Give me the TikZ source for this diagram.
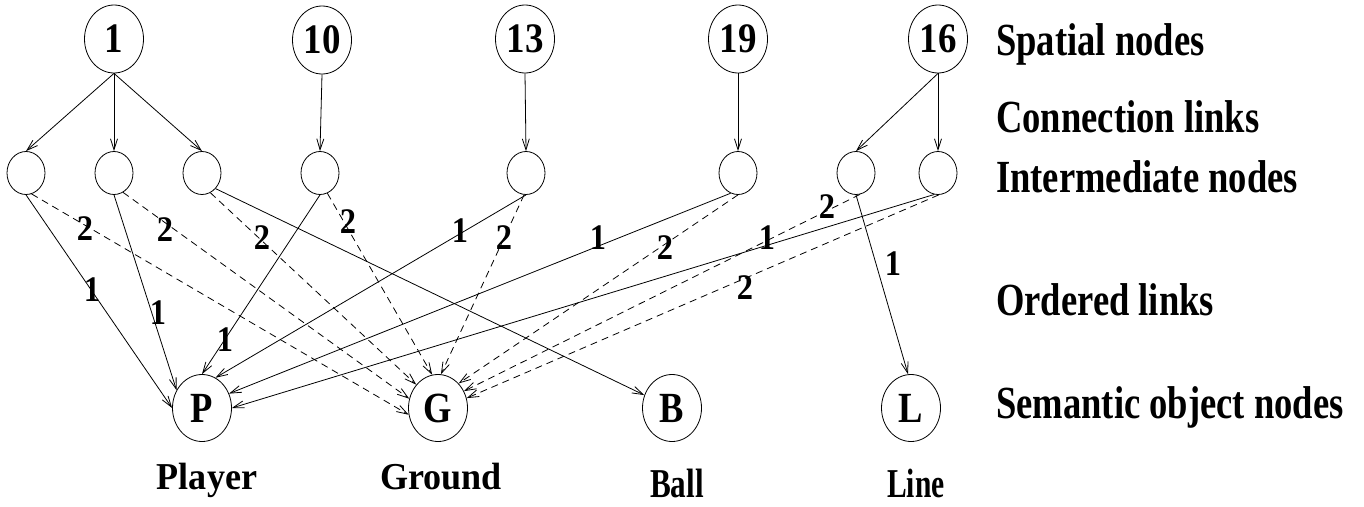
\documentclass[tikz,border=0pt]{standalone}
\usepackage{fontspec}
\setmainfont{Liberation Serif}
\usepackage{graphicx}
\usetikzlibrary{shapes.geometric,arrows.meta}

% bold text at a given size, squeezed horizontally
\newcommand\sqz[3]{{\fontsize{#1}{#1}\selectfont\bfseries\scalebox{#2}[1]{#3}}}
\newcommand\spnum[1]{\sqz{42}{0.88}{#1}}
\newcommand\objletter[1]{\sqz{43}{0.85}{#1}}
\newcommand\ordnum[1]{\sqz{36}{0.9}{#1}}
\newcommand\legend[1]{\sqz{46}{0.795}{#1}}

\tikzset{
  spatial/.style={draw, ellipse, line width=0.8pt, minimum width=59pt, minimum height=68pt, inner sep=0pt},
  inter/.style={draw, ellipse, line width=0.8pt, minimum width=38pt, minimum height=43pt, inner sep=0pt},
  semobj/.style={draw, ellipse, line width=0.8pt, minimum width=59pt, minimum height=67pt, inner sep=0pt},
  link/.style={-{Straight Barb[length=11pt,width=7pt]}, line width=0.8pt},
  dlink/.style={link, dash pattern=on 7pt off 5pt},
  lbl/.style={inner sep=0pt},
}

\begin{document}
\begin{tikzpicture}[x=1pt,y=-1pt]
\useasboundingbox (0,0) rectangle (1364,506);

% spatial nodes
\node[spatial] (t1)  at (114,39) {\spnum{1}};
\node[spatial] (t10) at (322,40) {\spnum{10}};
\node[spatial] (t13) at (525,39) {\spnum{13}};
\node[spatial] (t19) at (738,39) {\spnum{19}};
\node[spatial] (t16) at (938,39) {\spnum{16}};

% intermediate nodes
\node[inter] (i1) at (26,173) {};
\node[inter] (i2) at (114,173) {};
\node[inter] (i3) at (202,173) {};
\node[inter] (i4) at (320,173) {};
\node[inter] (i5) at (526,173) {};
\node[inter] (i6) at (738,173) {};
\node[inter] (i7) at (856,173) {};
\node[inter] (i8) at (938,173) {};

% semantic object nodes
\node[semobj] (p) at (202,408) {\objletter{P}};
\node[semobj] (g) at (438,408) {\objletter{G}};
\node[semobj] (b) at (672,408) {\objletter{B}};
\node[semobj] (l) at (911,408) {\objletter{L}};

% object names
\node[lbl, anchor=base] (nplayer) at (207,489) {\sqz{38}{0.95}{Player}};
\node[lbl, anchor=base] (nground) at (441,489) {\sqz{38}{0.95}{Ground}};
\node[lbl, anchor=base] (nball)   at (677,497) {\sqz{41}{0.76}{Ball}};
\node[lbl, anchor=base] (nline)   at (916,497) {\sqz{41}{0.72}{Line}};

% legend on the right
\node[lbl, anchor=base west] (lgsp)  at (996,55)  {\legend{Spatial nodes}};
\node[lbl, anchor=base west] (lgcl)  at (996,132) {\legend{Connection links}};
\node[lbl, anchor=base west] (lgin)  at (996,192) {\legend{Intermediate nodes}};
\node[lbl, anchor=base west] (lgol)  at (996,315) {\legend{Ordered links}};
\node[lbl, anchor=base west] (lgso)  at (996,418) {\legend{Semantic object nodes}};

% connection links
\draw[link] (t1.south)  -- (i1.north);
\draw[link] (t1.south)  -- (i2.north);
\draw[link] (t1.south)  -- (i3.north);
\draw[link] (t10.south) -- (i4.north);
\draw[link] (t13.south) -- (i5.north);
\draw[link] (t19.south) -- (i6.north);
\draw[link] (t16.south) -- (i7.north);
\draw[link] (t16.south) -- (i8.north);

% ordered links: solid = order 1, dashed = order 2
\draw[link]  (i1.south) -- (p.west);
\draw[dlink] (i1.-75)   -- (g.193);
\draw[link]  (i2.south) -- (p.145);
\draw[dlink] (i2.-65)   -- (g.162);
\draw[dlink] (i3.-67)   -- (g.133);
\draw[link]  (i3.-49)   -- (b.155);
\draw[link]  (i4.south) -- (p.north);
\draw[dlink] (i4.-70)   -- (g.100);
\draw[link]  (i5.south) -- (p.66);
\draw[dlink] (i5.-95)   -- (g.85);
\draw[link]  (i6.-110)  -- (p.28);
\draw[dlink] (i6.-90)   -- (g.50);
\draw[link]  (i7.south) -- (l.95);
\draw[dlink] (i7.-80)   -- (g.33);
\draw[link]  (i8.-100)  -- (p.east);
\draw[dlink] (i8.-88)   -- (g.19);

% order labels
\node[lbl] (o1g) at (85,229)  {\ordnum{2}};
\node[lbl] (o1p) at (92,290)  {\ordnum{1}};
\node[lbl] (o2g) at (165,230) {\ordnum{2}};
\node[lbl] (o2p) at (158,313) {\ordnum{1}};
\node[lbl] (o3g) at (262,238) {\ordnum{2}};
\node[lbl] (o4g) at (348,222) {\ordnum{2}};
\node[lbl] (o4p) at (225,340) {\ordnum{1}};
\node[lbl] (o5p) at (460,231) {\ordnum{1}};
\node[lbl] (o5g) at (504,238) {\ordnum{2}};
\node[lbl] (o6p) at (598,238) {\ordnum{1}};
\node[lbl] (o6g) at (665,248) {\ordnum{2}};
\node[lbl] (o7g) at (827,207) {\ordnum{2}};
\node[lbl] (o7l) at (893,264) {\ordnum{1}};
\node[lbl] (o8p) at (767,238) {\ordnum{1}};
\node[lbl] (o8g) at (745,288) {\ordnum{2}};
\end{tikzpicture}
\end{document}
